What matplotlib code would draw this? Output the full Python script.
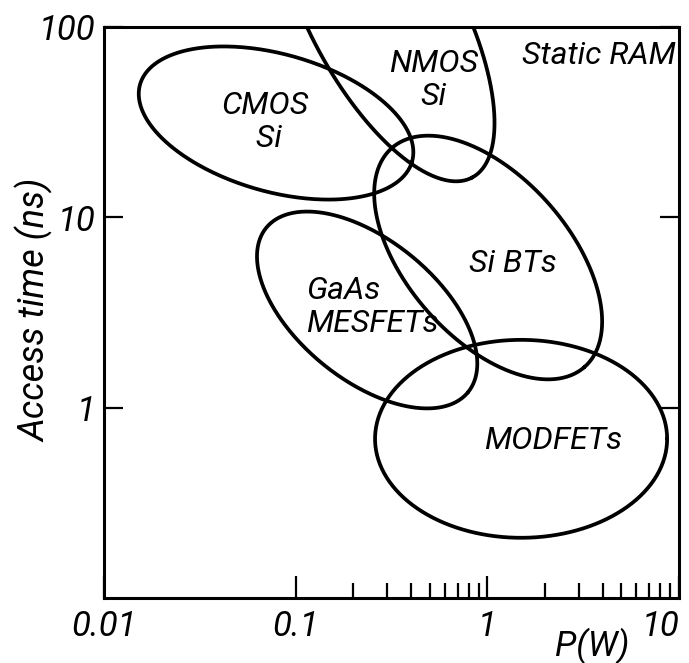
import numpy as np
import matplotlib
matplotlib.use("Agg")
import matplotlib.pyplot as plt
from matplotlib.ticker import FixedLocator, NullFormatter

plt.rcParams['font.family'] = ['Roboto', 'DejaVu Sans']
plt.rcParams['font.style'] = 'italic'

# Device regions on the power / access-time plane (static RAM)
devices = ["CMOS\n Si", "NMOS\nSi", "Si BTs", "GaAs\nMESFETs", "MODFETs"]
center_power = [0.079, 0.292, 1.01, 0.236, 1.50]      # W
center_time = [31.3, 116.0, 6.15, 3.26, 0.686]        # ns
major_dec = [0.738, 0.969, 0.764, 0.681, 0.762]       # semi-axis, decades
minor_dec = [0.361, 0.393, 0.424, 0.366, 0.520]       # semi-axis, decades
tilt_deg = [-16.0, -62.0, -49.0, -39.5, 0.0]

label_power = [0.069, 0.526, 1.36, 0.114, 2.20]
label_time = [31.7, 52.7, 5.75, 3.38, 0.676]
label_align = ['center', 'center', 'center', 'left', 'center']

x_ticks = [0.01, 0.1, 1, 10]
x_tick_labels = ["0.01", "0.1", "1", "10"]
y_ticks = [1, 10, 100]
y_tick_labels = ["1", "10", "100"]

fig = plt.figure(figsize=(6.89, 6.63), dpi=100)
ax = fig.add_axes([104 / 689, 1 - 598 / 663, 575 / 689, 571 / 663])
ax.set_xscale('log')
ax.set_yscale('log')
ax.set_xlim(0.01, 10)
ax.set_ylim(0.1, 100)

t = np.linspace(0, 2 * np.pi, 400)
for cp, ct, a, b, ang in zip(center_power, center_time, major_dec, minor_dec, tilt_deg):
    phi = np.radians(ang)
    lx = np.log10(cp) + a * np.cos(t) * np.cos(phi) - b * np.sin(t) * np.sin(phi)
    ly = np.log10(ct) + a * np.cos(t) * np.sin(phi) + b * np.sin(t) * np.cos(phi)
    ax.plot(10 ** lx, 10 ** ly, color='black', lw=2.7, solid_capstyle='round')

for name, px, py, al in zip(devices, label_power, label_time, label_align):
    ax.text(px, py, name, ha=al, va='center', fontsize=23,
            linespacing=1.15, multialignment=al)

ax.text(0.995, 0.975, "Static RAM", transform=ax.transAxes, ha='right',
        va='top', fontsize=23)

for s in ax.spines.values():
    s.set_linewidth(2.2)

ax.set_xticks(x_ticks)
ax.set_xticklabels(x_tick_labels)
ax.xaxis.set_minor_locator(FixedLocator([k * 0.1 for k in range(2, 10)] +
                                        [k * 1.0 for k in range(2, 10)]))
ax.xaxis.set_minor_formatter(NullFormatter())
ax.tick_params(axis='x', which='major', direction='in', length=16, width=1.6,
               labelsize=25, pad=8)
ax.tick_params(axis='x', which='minor', direction='in', length=11, width=1.6)
ax.get_xticklabels()[-1].set_horizontalalignment('right')

ax.set_yticks(y_ticks)
ax.set_yticklabels(y_tick_labels)
ax.yaxis.set_minor_locator(FixedLocator([]))
ax.tick_params(axis='y', which='major', direction='in', length=14, width=1.6,
               labelsize=25, right=True, pad=6)

fig.text(35 / 689, 1 - 310 / 663, "Access time (ns)", rotation=90,
         ha='center', va='center', fontsize=26)
fig.text(592 / 689, 1 - 646 / 663, "P(W)", ha='center', va='center', fontsize=25)

fig.savefig("out.png", dpi=100)
